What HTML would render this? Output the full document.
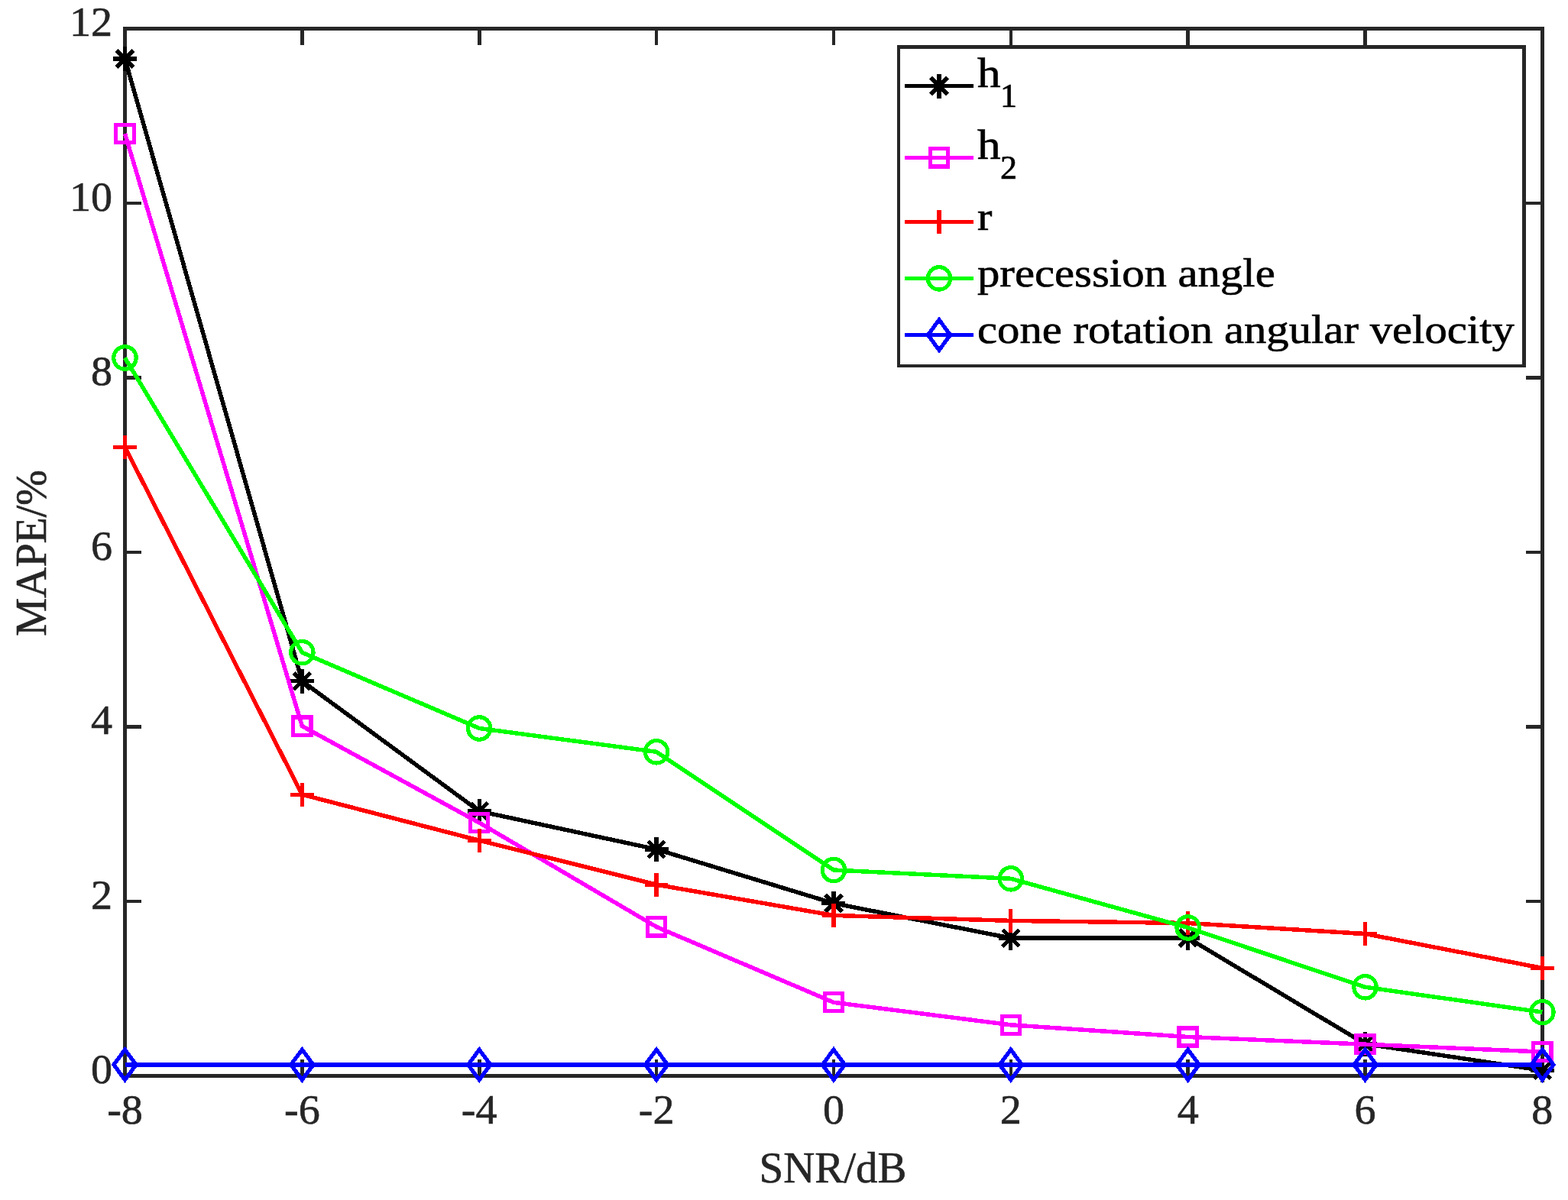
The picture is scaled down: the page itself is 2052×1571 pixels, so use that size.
<!DOCTYPE html>
<html><head><meta charset="utf-8"><title>MAPE vs SNR</title>
<style>
html,body{margin:0;padding:0;background:#fff;}
svg{display:block;}
path,rect,line,polyline,circle{shape-rendering:crispEdges;}
text{font-family:"Liberation Serif", serif;}
</style></head><body>
<svg width="2052" height="1571" viewBox="0 0 2052 1571">
<rect width="2052" height="1571" fill="#fff"/>

<g stroke="#262626" stroke-width="4.6" fill="none">
<path d="M163.5 1408.5V1387M163.5 37.4V58.9M395.36 1408.5V1387M395.36 37.4V58.9M627.23 1408.5V1387M627.23 37.4V58.9M859.09 1408.5V1387M859.09 37.4V58.9M1090.95 1408.5V1387M1090.95 37.4V58.9M1322.81 1408.5V1387M1322.81 37.4V58.9M1554.68 1408.5V1387M1554.68 37.4V58.9M1786.54 1408.5V1387M1786.54 37.4V58.9M2018.4 1408.5V1387M2018.4 37.4V58.9M163.5 1408.5H185M2018.4 1408.5H1996.9M163.5 1179.98H185M2018.4 1179.98H1996.9M163.5 951.47H185M2018.4 951.47H1996.9M163.5 722.95H185M2018.4 722.95H1996.9M163.5 494.43H185M2018.4 494.43H1996.9M163.5 265.92H185M2018.4 265.92H1996.9M163.5 37.4H185M2018.4 37.4H1996.9"/>
<rect x="163.5" y="37.4" width="1854.9" height="1371.1"/>
</g>
<g fill="#262626" stroke="#262626" stroke-width="0.6" font-size="56">
<text transform="translate(147 1418.4) scale(1.03 1)" font-size="54.5" text-anchor="end">0</text>
<text transform="translate(147 1189.88) scale(1.03 1)" font-size="54.5" text-anchor="end">2</text>
<text transform="translate(147 961.37) scale(1.03 1)" font-size="54.5" text-anchor="end">4</text>
<text transform="translate(147 732.85) scale(1.03 1)" font-size="54.5" text-anchor="end">6</text>
<text transform="translate(147 504.33) scale(1.03 1)" font-size="54.5" text-anchor="end">8</text>
<text transform="translate(147 275.82) scale(1.03 1)" font-size="54.5" text-anchor="end">10</text>
<text transform="translate(147 47.3) scale(1.03 1)" font-size="54.5" text-anchor="end">12</text>
<text transform="translate(163.5 1471.2) scale(1.03 1)" font-size="54.5" text-anchor="middle">-8</text>
<text transform="translate(395.36 1471.2) scale(1.03 1)" font-size="54.5" text-anchor="middle">-6</text>
<text transform="translate(627.23 1471.2) scale(1.03 1)" font-size="54.5" text-anchor="middle">-4</text>
<text transform="translate(859.09 1471.2) scale(1.03 1)" font-size="54.5" text-anchor="middle">-2</text>
<text transform="translate(1090.95 1471.2) scale(1.03 1)" font-size="54.5" text-anchor="middle">0</text>
<text transform="translate(1322.81 1471.2) scale(1.03 1)" font-size="54.5" text-anchor="middle">2</text>
<text transform="translate(1554.68 1471.2) scale(1.03 1)" font-size="54.5" text-anchor="middle">4</text>
<text transform="translate(1786.54 1471.2) scale(1.03 1)" font-size="54.5" text-anchor="middle">6</text>
<text transform="translate(2018.4 1471.2) scale(1.03 1)" font-size="54.5" text-anchor="middle">8</text>
<text transform="translate(1090 1548) scale(1.016 1)" text-anchor="middle">SNR/dB</text>
<text transform="translate(59.7 723.9) rotate(-90)" x="0" y="0" text-anchor="middle">MAPE/%</text>
</g>
<g>
<polyline points="163.5,76.9 395.36,891.7 627.23,1062 859.09,1111.9 1090.95,1182.6 1322.81,1228.1 1554.68,1228 1786.54,1366.6 2018.4,1401.3" stroke="#000000" stroke-width="5.5" fill="none" stroke-linejoin="round"/>
<path d="M148 76.9H179M163.5 60.9V92.9M152.6 66L174.4 87.8M152.6 87.8L174.4 66" stroke="#000000" stroke-width="5.2" fill="none"/>
<path d="M379.86 891.7H410.86M395.36 875.7V907.7M384.46 880.8L406.26 902.6M384.46 902.6L406.26 880.8" stroke="#000000" stroke-width="5.2" fill="none"/>
<path d="M611.73 1062H642.73M627.23 1046V1078M616.33 1051.1L638.12 1072.9M616.33 1072.9L638.12 1051.1" stroke="#000000" stroke-width="5.2" fill="none"/>
<path d="M843.59 1111.9H874.59M859.09 1095.9V1127.9M848.19 1101L869.99 1122.8M848.19 1122.8L869.99 1101" stroke="#000000" stroke-width="5.2" fill="none"/>
<path d="M1075.45 1182.6H1106.45M1090.95 1166.6V1198.6M1080.05 1171.7L1101.85 1193.5M1080.05 1193.5L1101.85 1171.7" stroke="#000000" stroke-width="5.2" fill="none"/>
<path d="M1307.31 1228.1H1338.31M1322.81 1212.1V1244.1M1311.91 1217.2L1333.71 1239M1311.91 1239L1333.71 1217.2" stroke="#000000" stroke-width="5.2" fill="none"/>
<path d="M1539.18 1228H1570.18M1554.68 1212V1244M1543.78 1217.1L1565.58 1238.9M1543.78 1238.9L1565.58 1217.1" stroke="#000000" stroke-width="5.2" fill="none"/>
<path d="M1771.04 1366.6H1802.04M1786.54 1350.6V1382.6M1775.64 1355.7L1797.44 1377.5M1775.64 1377.5L1797.44 1355.7" stroke="#000000" stroke-width="5.2" fill="none"/>
<path d="M2002.9 1401.3H2033.9M2018.4 1385.3V1417.3M2007.5 1390.4L2029.3 1412.2M2007.5 1412.2L2029.3 1390.4" stroke="#000000" stroke-width="5.2" fill="none"/>
</g>
<g>
<polyline points="163.5,175 395.36,950.6 627.23,1077.1 859.09,1213.4 1090.95,1312.3 1322.81,1341.8 1554.68,1357.5 1786.54,1367.2 2018.4,1377.1" stroke="#ff00ff" stroke-width="5.5" fill="none" stroke-linejoin="round"/>
<rect x="151.9" y="163.4" width="23.2" height="23.2" stroke="#ff00ff" stroke-width="5.2" fill="none"/>
<rect x="383.76" y="939" width="23.2" height="23.2" stroke="#ff00ff" stroke-width="5.2" fill="none"/>
<rect x="615.62" y="1065.5" width="23.2" height="23.2" stroke="#ff00ff" stroke-width="5.2" fill="none"/>
<rect x="847.49" y="1201.8" width="23.2" height="23.2" stroke="#ff00ff" stroke-width="5.2" fill="none"/>
<rect x="1079.35" y="1300.7" width="23.2" height="23.2" stroke="#ff00ff" stroke-width="5.2" fill="none"/>
<rect x="1311.21" y="1330.2" width="23.2" height="23.2" stroke="#ff00ff" stroke-width="5.2" fill="none"/>
<rect x="1543.08" y="1345.9" width="23.2" height="23.2" stroke="#ff00ff" stroke-width="5.2" fill="none"/>
<rect x="1774.94" y="1355.6" width="23.2" height="23.2" stroke="#ff00ff" stroke-width="5.2" fill="none"/>
<rect x="2006.8" y="1365.5" width="23.2" height="23.2" stroke="#ff00ff" stroke-width="5.2" fill="none"/>
</g>
<g>
<polyline points="163.5,585.3 395.36,1040.2 627.23,1100.3 859.09,1158.2 1090.95,1198.4 1322.81,1205.4 1554.68,1208.5 1786.54,1222.5 2018.4,1267.4" stroke="#ff0000" stroke-width="5.5" fill="none" stroke-linejoin="round"/>
<path d="M148.1 585.3H178.9M163.5 569.9V600.7" stroke="#ff0000" stroke-width="5.2" fill="none"/>
<path d="M379.96 1040.2H410.76M395.36 1024.8V1055.6" stroke="#ff0000" stroke-width="5.2" fill="none"/>
<path d="M611.83 1100.3H642.62M627.23 1084.9V1115.7" stroke="#ff0000" stroke-width="5.2" fill="none"/>
<path d="M843.69 1158.2H874.49M859.09 1142.8V1173.6" stroke="#ff0000" stroke-width="5.2" fill="none"/>
<path d="M1075.55 1198.4H1106.35M1090.95 1183V1213.8" stroke="#ff0000" stroke-width="5.2" fill="none"/>
<path d="M1307.41 1205.4H1338.21M1322.81 1190V1220.8" stroke="#ff0000" stroke-width="5.2" fill="none"/>
<path d="M1539.28 1208.5H1570.08M1554.68 1193.1V1223.9" stroke="#ff0000" stroke-width="5.2" fill="none"/>
<path d="M1771.14 1222.5H1801.94M1786.54 1207.1V1237.9" stroke="#ff0000" stroke-width="5.2" fill="none"/>
<path d="M2003 1267.4H2033.8M2018.4 1252V1282.8" stroke="#ff0000" stroke-width="5.2" fill="none"/>
</g>
<g>
<polyline points="163.5,468.5 395.36,854.2 627.23,953.5 859.09,984.3 1090.95,1139 1322.81,1150.3 1554.68,1214.5 1786.54,1292.3 2018.4,1325.1" stroke="#00ff00" stroke-width="5.5" fill="none" stroke-linejoin="round"/>
<circle cx="163.5" cy="468.5" r="14.7" stroke="#00ff00" stroke-width="5.2" fill="none"/>
<circle cx="395.36" cy="854.2" r="14.7" stroke="#00ff00" stroke-width="5.2" fill="none"/>
<circle cx="627.23" cy="953.5" r="14.7" stroke="#00ff00" stroke-width="5.2" fill="none"/>
<circle cx="859.09" cy="984.3" r="14.7" stroke="#00ff00" stroke-width="5.2" fill="none"/>
<circle cx="1090.95" cy="1139" r="14.7" stroke="#00ff00" stroke-width="5.2" fill="none"/>
<circle cx="1322.81" cy="1150.3" r="14.7" stroke="#00ff00" stroke-width="5.2" fill="none"/>
<circle cx="1554.68" cy="1214.5" r="14.7" stroke="#00ff00" stroke-width="5.2" fill="none"/>
<circle cx="1786.54" cy="1292.3" r="14.7" stroke="#00ff00" stroke-width="5.2" fill="none"/>
<circle cx="2018.4" cy="1325.1" r="14.7" stroke="#00ff00" stroke-width="5.2" fill="none"/>
</g>
<g>
<polyline points="163.5,1393.9 395.36,1393.9 627.23,1393.9 859.09,1393.9 1090.95,1393.9 1322.81,1393.9 1554.68,1393.9 1786.54,1393.9 2018.4,1393.9" stroke="#0000ff" stroke-width="5.5" fill="none" stroke-linejoin="round"/>
<path d="M163.5 1374.1L178.1 1393.9L163.5 1413.7L148.9 1393.9Z" stroke="#0000ff" stroke-width="5.2" fill="none" stroke-miterlimit="10"/>
<path d="M395.36 1374.1L409.96 1393.9L395.36 1413.7L380.76 1393.9Z" stroke="#0000ff" stroke-width="5.2" fill="none" stroke-miterlimit="10"/>
<path d="M627.23 1374.1L641.83 1393.9L627.23 1413.7L612.62 1393.9Z" stroke="#0000ff" stroke-width="5.2" fill="none" stroke-miterlimit="10"/>
<path d="M859.09 1374.1L873.69 1393.9L859.09 1413.7L844.49 1393.9Z" stroke="#0000ff" stroke-width="5.2" fill="none" stroke-miterlimit="10"/>
<path d="M1090.95 1374.1L1105.55 1393.9L1090.95 1413.7L1076.35 1393.9Z" stroke="#0000ff" stroke-width="5.2" fill="none" stroke-miterlimit="10"/>
<path d="M1322.81 1374.1L1337.41 1393.9L1322.81 1413.7L1308.21 1393.9Z" stroke="#0000ff" stroke-width="5.2" fill="none" stroke-miterlimit="10"/>
<path d="M1554.68 1374.1L1569.28 1393.9L1554.68 1413.7L1540.08 1393.9Z" stroke="#0000ff" stroke-width="5.2" fill="none" stroke-miterlimit="10"/>
<path d="M1786.54 1374.1L1801.14 1393.9L1786.54 1413.7L1771.94 1393.9Z" stroke="#0000ff" stroke-width="5.2" fill="none" stroke-miterlimit="10"/>
<path d="M2018.4 1374.1L2033 1393.9L2018.4 1413.7L2003.8 1393.9Z" stroke="#0000ff" stroke-width="5.2" fill="none" stroke-miterlimit="10"/>
</g>
<rect x="1175.8" y="61.7" width="818.5" height="417.1" fill="#fff" stroke="#262626" stroke-width="4.6"/>
<line x1="1183.9" y1="112.5" x2="1274.1" y2="112.5" stroke="#000000" stroke-width="5.5"/>
<path d="M1213.5 112.5H1244.5M1229 96.5V128.5M1218.1 101.6L1239.9 123.4M1218.1 123.4L1239.9 101.6" stroke="#000000" stroke-width="5.2" fill="none"/>
<line x1="1183.9" y1="206.4" x2="1274.1" y2="206.4" stroke="#ff00ff" stroke-width="5.5"/>
<rect x="1217.4" y="194.8" width="23.2" height="23.2" stroke="#ff00ff" stroke-width="5.2" fill="none"/>
<line x1="1183.9" y1="290.7" x2="1274.1" y2="290.7" stroke="#ff0000" stroke-width="5.5"/>
<path d="M1213.6 290.7H1244.4M1229 275.3V306.1" stroke="#ff0000" stroke-width="5.2" fill="none"/>
<line x1="1183.9" y1="364.4" x2="1274.1" y2="364.4" stroke="#00ff00" stroke-width="5.5"/>
<circle cx="1229" cy="364.4" r="14.7" stroke="#00ff00" stroke-width="5.2" fill="none"/>
<line x1="1183.9" y1="438.5" x2="1274.1" y2="438.5" stroke="#0000ff" stroke-width="5.5"/>
<path d="M1229 418.7L1243.6 438.5L1229 458.3L1214.4 438.5Z" stroke="#0000ff" stroke-width="5.2" fill="none" stroke-miterlimit="10"/>
<g fill="#000" stroke="#000" stroke-width="0.7" font-size="56">
<text transform="translate(1279 113.8) scale(1.09 0.985)">h</text><text x="1309" y="140" font-size="44">1</text>
<text transform="translate(1279 207.8) scale(1.09 0.985)">h</text><text x="1309" y="233.9" font-size="44">2</text>
<text transform="translate(1279 301.2) scale(1.04 0.955)">r</text>
<text transform="translate(1279 375) scale(1.049 0.955)">precession angle</text>
<text transform="translate(1279 449.1) scale(1.049 0.955)">cone rotation angular velocity</text>
</g>
</svg>
</body></html>
